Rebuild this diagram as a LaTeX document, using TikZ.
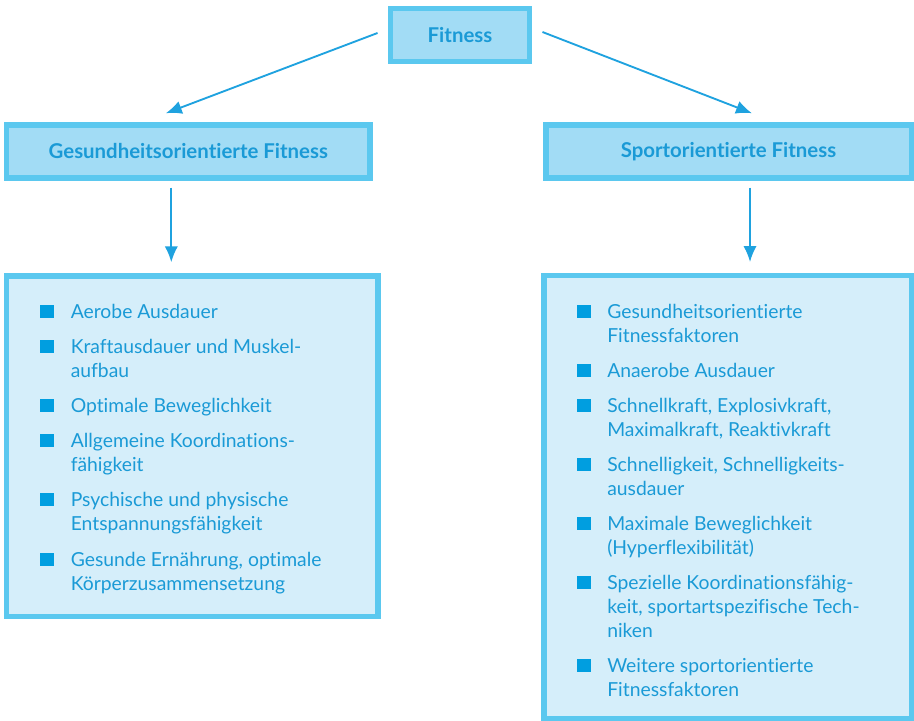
\documentclass[tikz,border=0pt]{standalone}
\usepackage{fontspec}
\setmainfont{Lato}[Ligatures=NoCommon]
\usepackage{xcolor}
\usepackage{tikz}
\usetikzlibrary{arrows.meta,positioning}

\definecolor{randfarbe}{HTML}{5BC8EF}
\definecolor{kopffarbe}{HTML}{A2DCF5}
\definecolor{listenfarbe}{HTML}{D5EEFA}
\definecolor{schrift}{HTML}{1A9AD6}
\definecolor{pfeilfarbe}{HTML}{1FA2DF}
\definecolor{punktfarbe}{HTML}{009EE0}

\tikzset{
  kasten/.style={draw=randfarbe, line width=4.1pt, inner sep=0pt},
  kopf/.style={kasten, fill=kopffarbe, text=schrift, font=\bfseries\fontsize{15.3}{18}\selectfont},
  liste/.style={kasten, fill=listenfarbe},
  pfeil/.style={draw=pfeilfarbe, line width=1.4pt, -{Latex[length=12pt,width=10pt]}},
  eintrag/.style={anchor=base west, inner sep=0pt, text=schrift, font=\fontsize{14.5}{18}\selectfont},
  punkt/.style={fill=punktfarbe}
}
\newcommand{\zeilen}[1]{\begin{tabular}[t]{@{}l@{}}#1\end{tabular}}

\begin{document}
\begin{tikzpicture}[x=0.75pt, y=-0.75pt]
  \useasboundingbox (0,0) rectangle (914,721);

  % Kaesten
  \node[kopf, minimum width=104.6pt, minimum height=39.4pt] (fitness) at (460,35) {Fitness};
  \node[kopf, minimum width=272.6pt, minimum height=39.75pt] (gesund) at (188.3,151.5) {Gesundheitsorientierte Fitness};
  \node[kopf, minimum width=274.1pt, minimum height=39.75pt] (sport) at (728.5,151.5) {Sportorientierte Fitness};
  \node[liste, minimum width=278.4pt, minimum height=255.4pt] (gesundliste) at (192.3,446.3) {};
  \node[liste, minimum width=275.6pt, minimum height=331.9pt] (sportliste) at (727.5,497) {};

  % Pfeile
  \draw[pfeil] ([shift={(-10,-2)}]fitness.west) -- ([shift={(-22.5,-9)}]gesund.north);
  \draw[pfeil] ([shift={(10,-3)}]fitness.east) -- ([shift={(23.5,-9)}]sport.north);
  \draw[pfeil] ([shift={(-17,7)}]gesund.south) -- ([shift={(-21,-11)}]gesundliste.north);
  \draw[pfeil] ([shift={(21.5,7)}]sport.south) -- ([shift={(22.5,-11)}]sportliste.north);

  % Eintraege links
  \foreach \yy/\txt in {318/{Aerobe Ausdauer},
                        353/{Kraftausdauer und Muskel-\\aufbau},
                        412/{Optimale Beweglichkeit},
                        447/{Allgemeine Koordinations-\\fähigkeit},
                        506/{Psychische und physische\\Entspannungsfähigkeit},
                        566/{Gesunde Ernährung, optimale\\Körperzusammensetzung}} {
    \fill[punkt] (40,\yy) rectangle ++(13.5,-13.5);
    \node[eintrag] (links-\yy) at (70.5,\yy) {\zeilen{\txt}};
  }

  % Eintraege rechts
  \foreach \yy/\txt in {318/{Gesundheitsorientierte\\Fitnessfaktoren},
                        377/{Anaerobe Ausdauer},
                        412/{Schnellkraft, Explosivkraft,\\Maximalkraft, Reaktivkraft},
                        471/{Schnelligkeit, Schnelligkeits-\\ausdauer},
                        530/{Maximale Beweglichkeit\\(Hyperflexibilität)},
                        589/{Spezielle Koordinationsfähig-\\keit, sportartspezifische Tech-\\niken},
                        672/{Weitere sportorientierte\\Fitnessfaktoren}} {
    \fill[punkt] (577,\yy) rectangle ++(13.5,-13.5);
    \node[eintrag] (rechts-\yy) at (607,\yy) {\zeilen{\txt}};
  }
\end{tikzpicture}
\end{document}
